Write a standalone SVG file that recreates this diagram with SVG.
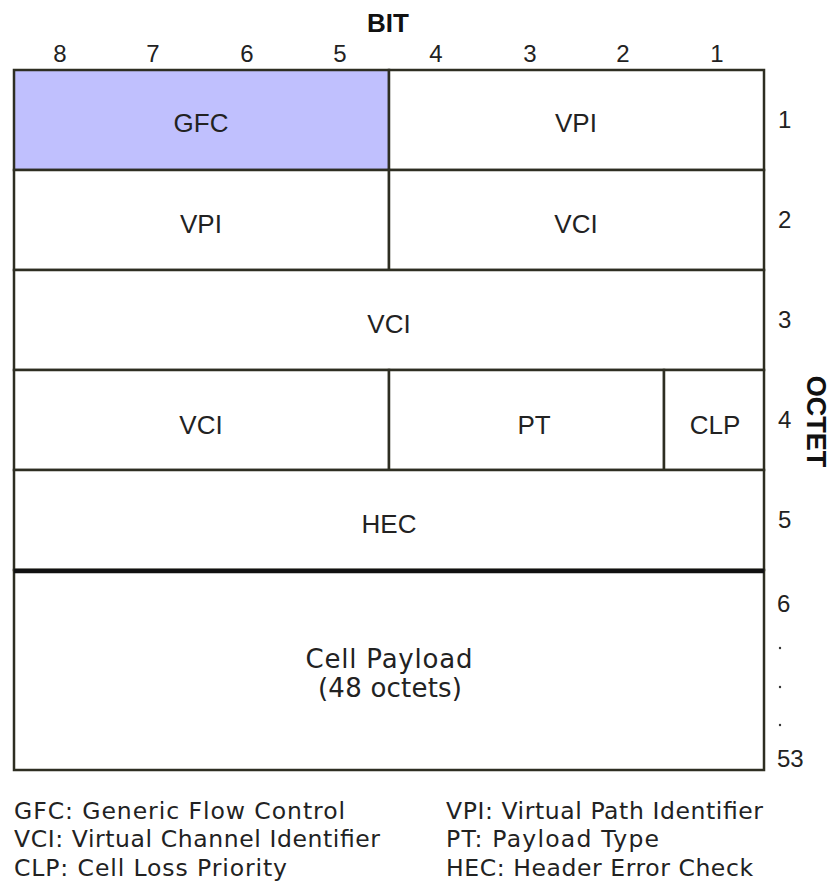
<svg xmlns="http://www.w3.org/2000/svg" width="833" height="881" viewBox="0 0 833 881">
<style>
.b{fill:#fff;stroke:#2e2e22;stroke-width:2.5}
.t{font-family:"Liberation Sans",Arial,sans-serif;font-size:26px;fill:#222;text-anchor:middle}
.p{font-family:"DejaVu Sans",Verdana,sans-serif;font-size:26px;fill:#222;text-anchor:middle}
.n{font-family:"Liberation Sans",Arial,sans-serif;font-size:24px;fill:#222;text-anchor:middle}
.o{font-family:"Liberation Sans",Arial,sans-serif;font-size:24px;fill:#222}
.l{font-family:"DejaVu Sans",Verdana,sans-serif;font-size:23.5px;fill:#222}
.h{font-family:"Liberation Sans",Arial,sans-serif;font-size:26px;font-weight:bold;fill:#111;text-anchor:middle}
</style>
<rect width="833" height="881" fill="#fff"/>
<text class="h" x="388" y="32">BIT</text>
<g id="bits">
<text class="n" x="60" y="62">8</text>
<text class="n" x="153" y="62">7</text>
<text class="n" x="247" y="62">6</text>
<text class="n" x="340" y="62">5</text>
<text class="n" x="436" y="62">4</text>
<text class="n" x="530" y="62">3</text>
<text class="n" x="623" y="62">2</text>
<text class="n" x="717" y="62">1</text>
</g>
<g id="gfc"><rect class="b" x="14" y="70" width="375" height="100" style="fill:#c0c0fe"/><text class="t" x="201" y="132">GFC</text></g>
<g id="vpi1"><rect class="b" x="389" y="70" width="375" height="100"/><text class="t" x="576" y="132">VPI</text></g>
<g id="vpi2"><rect class="b" x="14" y="170" width="375" height="100"/><text class="t" x="201" y="233">VPI</text></g>
<g id="vci2"><rect class="b" x="389" y="170" width="375" height="100"/><text class="t" x="576" y="233">VCI</text></g>
<g id="vci3"><rect class="b" x="14" y="270" width="750" height="100"/><text class="t" x="389" y="333">VCI</text></g>
<g id="vci4"><rect class="b" x="14" y="370" width="375" height="100"/><text class="t" x="201" y="434">VCI</text></g>
<g id="pt"><rect class="b" x="389" y="370" width="275" height="100"/><text class="t" x="534" y="434">PT</text></g>
<g id="clp"><rect class="b" x="664" y="370" width="100" height="100"/><text class="t" x="715" y="434">CLP</text></g>
<g id="hec"><rect class="b" x="14" y="470" width="750" height="100"/><text class="t" x="389" y="533">HEC</text></g>
<g id="payload"><rect class="b" x="14" y="570" width="750" height="200"/><line x1="14" y1="571" x2="764" y2="571" stroke="#111" stroke-width="4.5"/><text class="p" x="389" y="668" textLength="167">Cell Payload</text><text class="p" x="390" y="697" textLength="144">(48 octets)</text></g>
<g id="octets">
<text class="o" x="778" y="128">1</text>
<text class="o" x="778" y="228">2</text>
<text class="o" x="778" y="328">3</text>
<text class="o" x="778" y="428">4</text>
<text class="o" x="778" y="528">5</text>
<text class="o" x="777" y="612">6</text>
<circle cx="780" cy="648" r="1.2" fill="#333"/>
<circle cx="780" cy="687" r="1.2" fill="#333"/>
<circle cx="780" cy="725" r="1.2" fill="#333"/>
<text class="o" x="777" y="767">53</text>
<text class="h" transform="translate(807,421.5) rotate(90)" style="font-size:27px">OCTET</text>
</g>
<g id="legend">
<text class="l" x="14" y="819" textLength="331">GFC: Generic Flow Control</text>
<text class="l" x="14" y="847" textLength="366">VCI: Virtual Channel Identifier</text>
<text class="l" x="14" y="876" textLength="273">CLP: Cell Loss Priority</text>
<text class="l" x="446" y="819" textLength="317">VPI: Virtual Path Identifier</text>
<text class="l" x="446" y="847" textLength="213">PT: Payload Type</text>
<text class="l" x="446" y="876" textLength="307">HEC: Header Error Check</text>
</g>
</svg>
